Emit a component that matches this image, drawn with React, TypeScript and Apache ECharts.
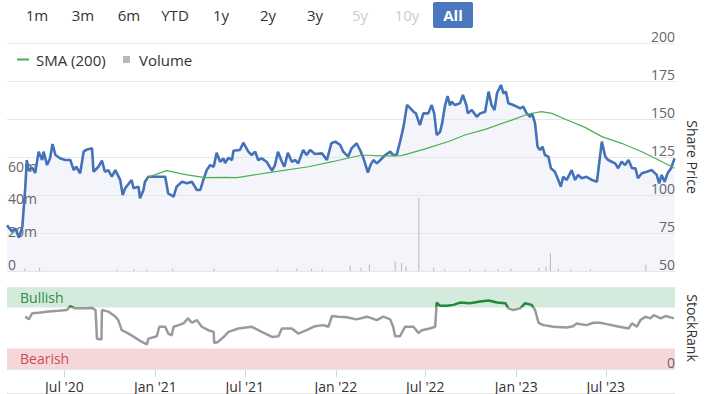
import React, { useEffect, useRef } from "react";
import * as echarts from "echarts";

const X_MIN = "2020-03-07";
const X_MAX = "2023-11-18";

const xTickDates = ["2020-07-01", "2021-01-01", "2021-07-01", "2022-01-01", "2022-07-01", "2023-01-01", "2023-07-01"];

const rangeButtons = ["1m", "3m", "6m", "YTD", "1y", "2y", "3y", "5y", "10y"];
const disabledButtons = ["5y", "10y"];

const priceDates = [
  "2020-03-07","2020-03-17","2020-03-24","2020-03-31","2020-04-07","2020-04-13","2020-04-16","2020-04-20","2020-04-27","2020-05-03",
  "2020-05-10","2020-05-17","2020-05-20","2020-05-27","2020-06-02","2020-06-07","2020-06-13","2020-06-23","2020-07-03","2020-07-13",
  "2020-07-20","2020-07-25","2020-08-02","2020-08-09","2020-08-16","2020-08-26","2020-08-29","2020-09-08","2020-09-15","2020-09-21",
  "2020-09-28","2020-10-05","2020-10-12","2020-10-22","2020-10-27","2020-11-01","2020-11-14","2020-11-18","2020-11-28","2020-12-01",
  "2020-12-08","2020-12-11","2020-12-18","2021-01-01","2021-01-21","2021-01-27","2021-02-07","2021-02-13","2021-02-24","2021-03-06",
  "2021-03-16","2021-03-26","2021-04-02","2021-04-08","2021-04-15","2021-04-22","2021-04-29","2021-05-05","2021-05-12","2021-05-19",
  "2021-05-22","2021-05-29","2021-06-05","2021-06-08","2021-06-21","2021-06-28","2021-07-08","2021-07-15","2021-07-22","2021-07-28",
  "2021-08-04","2021-08-14","2021-08-25","2021-08-31","2021-09-06","2021-09-14","2021-09-19","2021-09-26","2021-10-04","2021-10-11",
  "2021-10-17","2021-10-27","2021-11-03","2021-11-10","2021-11-20","2021-12-04","2021-12-14","2021-12-23","2021-12-31","2022-01-10",
  "2022-01-16","2022-01-26","2022-02-02","2022-02-12","2022-02-19","2022-02-26","2022-03-07","2022-03-12","2022-03-18","2022-03-25",
  "2022-04-01","2022-04-11","2022-04-21","2022-04-27","2022-05-04","2022-05-11","2022-05-18","2022-05-25","2022-06-01","2022-06-07",
  "2022-06-12","2022-06-20","2022-06-27","2022-07-07","2022-07-14","2022-07-19","2022-07-24","2022-07-31","2022-08-04","2022-08-10",
  "2022-08-15","2022-08-20","2022-08-23","2022-08-30","2022-09-09","2022-09-15","2022-09-22","2022-09-25","2022-10-03","2022-10-13",
  "2022-10-20","2022-10-30","2022-11-06","2022-11-12","2022-11-18","2022-11-23","2022-12-01","2022-12-06","2022-12-11","2022-12-16",
  "2022-12-26","2023-01-02","2023-01-09","2023-01-15","2023-01-22","2023-01-29","2023-02-02","2023-02-08","2023-02-13","2023-02-18",
  "2023-02-23","2023-02-28","2023-03-07","2023-03-12","2023-03-20","2023-03-27","2023-04-01","2023-04-06","2023-04-13","2023-04-23",
  "2023-04-30","2023-05-06","2023-05-13","2023-05-23","2023-06-03","2023-06-13","2023-06-16","2023-06-23","2023-06-30","2023-07-06",
  "2023-07-13","2023-07-20","2023-07-26","2023-08-02","2023-08-09","2023-08-16","2023-08-23","2023-08-30","2023-09-04","2023-09-12",
  "2023-09-22","2023-10-02","2023-10-12","2023-10-17","2023-10-22","2023-10-28","2023-11-03","2023-11-10","2023-11-17",
];
const priceValues = [
  80, 76, 78, 72, 79, 105, 123, 116, 118, 114.5,
  128.5, 123, 128.5, 119.7, 124, 133.5, 126.3, 124, 123, 123,
  116.4, 118.6, 114.3, 128.5, 130, 130.7, 115.3, 118.6, 122.6, 115.3,
  116.4, 112, 116.4, 109.9, 100, 104.4, 109.9, 104.4, 105.5, 97.8,
  103.3, 108.7, 112, 112, 112, 101, 98.9, 105.5, 108.7, 107.7,
  108.7, 103.3, 103.3, 109.9, 116.4, 119.7, 118.6, 127.8, 121.9, 124.1,
  121, 124.5, 123, 129.1, 129.6, 134.4, 128.5, 126.3, 128.5, 123,
  124.1, 121.9, 116, 119.7, 128.5, 121.9, 118.6, 127.8, 121.9, 123,
  120.8, 129.6, 126.3, 129.6, 127, 127.4, 123, 134, 135.1, 132.9,
  128.5, 125.2, 130.7, 134, 129.6, 124.1, 114.7, 119.7, 123, 120.8,
  123, 126.3, 128.5, 126.3, 126.3, 135.1, 145, 159.2, 157, 154.8,
  153.7, 146, 153.7, 153.7, 159.2, 153.7, 139.5, 141.6, 147.1, 159,
  165, 159, 161.4, 159.2, 160.3, 165.8, 159.2, 153.7, 155.9, 151.5,
  153.7, 154.8, 168, 159.2, 155.9, 166.9, 172.4, 166.9, 168, 160.3,
  159.2, 158.1, 157, 158.1, 153.7, 151.5, 153.7, 147.1, 131.8, 129.6,
  131.8, 126.3, 125.2, 117.6, 115.3, 109.9, 105.5, 112, 109.9, 116.4,
  109.9, 113.2, 111, 112, 109.9, 108.7, 116.4, 135.1, 125.2, 123,
  121.9, 120.8, 117.6, 121.9, 119.7, 123, 117.6, 117.6, 111, 114.3,
  115.3, 116.4, 113.2, 107.7, 113.2, 108.7, 114.3, 117.6, 124.1,
];

const smaDates = [
  "2020-12-15","2021-01-24","2021-03-06","2021-04-12","2021-05-22","2021-06-15","2021-08-25","2021-11-07","2021-12-25","2022-02-23",
  "2022-04-04","2022-05-14","2022-07-01","2022-08-20","2022-09-19","2022-10-30","2022-12-23","2023-01-25","2023-02-21","2023-03-14",
  "2023-04-10","2023-05-20","2023-06-23","2023-08-02","2023-09-12","2023-10-16","2023-11-17",
];
const smaValues = [
  111.4, 116, 113.2, 111.4, 111.6, 111.4, 115, 118.6, 121.9, 126.3,
  125.7, 125.9, 130.3, 135.5, 139.5, 143.2, 149.3, 153.3, 154.8, 153.7,
  149.8, 144.5, 138.4, 134, 128.5, 123, 117.6,
];

const volumeDates = [
  "2020-03-17","2020-04-12","2020-05-12","2020-10-15","2020-11-19","2020-12-15","2021-02-05","2021-04-30","2021-09-05","2021-10-14",
  "2021-11-13","2021-12-05","2022-01-30","2022-02-21","2022-03-10","2022-05-01","2022-05-14","2022-05-23","2022-06-18","2022-07-18",
  "2022-08-09","2022-09-29","2022-10-30","2022-11-25","2022-12-21","2023-02-16","2023-03-02","2023-03-11","2023-03-27","2023-04-22",
  "2023-05-31","2023-09-20",
];
const volumeValues = [
  1.5, 1.5, 2, 1, 1, 1, 1.5, 1.5, 1, 1.5,
  1.5, 1, 3, 2, 4, 6, 5, 3, 45, 2,
  1, 1, 1, 1, 1.5, 2, 2.5, 11, 1.5, 1,
  1, 4,
];

const rankDates = [
  "2020-04-13","2020-04-20","2020-04-27","2020-05-10","2020-05-30","2020-06-19","2020-07-06","2020-07-13","2020-07-23","2020-08-12",
  "2020-08-26","2020-09-02","2020-09-05","2020-09-14","2020-09-15","2020-09-28","2020-10-12","2020-10-18","2020-10-25","2020-11-08",
  "2020-11-21","2020-12-05","2020-12-15","2020-12-18","2021-01-04","2021-01-09","2021-01-21","2021-01-27","2021-02-03","2021-02-07",
  "2021-02-17","2021-02-27","2021-03-08","2021-03-16","2021-03-26","2021-04-05","2021-04-18","2021-04-29","2021-04-30","2021-05-08",
  "2021-05-19","2021-05-29","2021-06-18","2021-07-15","2021-08-04","2021-08-25","2021-09-07","2021-09-14","2021-10-04","2021-10-17",
  "2021-11-03","2021-11-20","2021-12-07","2021-12-17","2021-12-24","2022-01-06","2022-01-23","2022-02-12","2022-03-05","2022-03-25",
  "2022-04-07","2022-04-21","2022-04-27","2022-05-01","2022-05-11","2022-05-21","2022-06-07","2022-06-17","2022-06-24","2022-07-10",
  "2022-07-21","2022-07-24","2022-07-31","2022-08-13","2022-08-27","2022-09-09","2022-09-29","2022-10-20","2022-11-06","2022-11-23",
  "2022-12-10","2022-12-16","2022-12-26","2023-01-09","2023-01-19","2023-02-01","2023-02-08","2023-02-15","2023-02-25","2023-03-17",
  "2023-04-13","2023-04-26","2023-05-03","2023-05-23","2023-06-06","2023-06-19","2023-07-03","2023-07-23","2023-08-16","2023-08-23",
  "2023-09-02","2023-09-09","2023-09-19","2023-09-29","2023-10-06","2023-10-20","2023-10-30","2023-11-16",
];
const rankValues = [
  64, 60.5, 68, 68.7, 70, 71, 72, 76.5, 74, 74,
  74.5, 72, 37, 36, 72, 70, 64, 59.6, 47.3, 43.2,
  38.3, 33, 30, 37, 40, 51.5, 51.5, 43.2, 41, 51.5,
  53.5, 55.6, 61.7, 56.4, 59.6, 51.5, 47.3, 45.3, 31.7, 33,
  39, 45.3, 49.4, 51.5, 45.3, 39.1, 40, 49.4, 49.4, 43.2,
  47.3, 52.2, 53.5, 51.5, 64.6, 63.8, 63, 60.5, 63.8, 59.6,
  63.8, 60.5, 51.5, 40, 40, 51.5, 51.5, 44, 47.3, 49.4,
  51.5, 81, 77, 77, 78.2, 81, 80.2, 82.3, 83.6, 81,
  80.2, 74, 72, 74, 80.2, 78.2, 72, 56.4, 53.5, 51.5,
  50.6, 52.2, 55.6, 53.5, 56.4, 56.4, 54.7, 52.2, 49.4, 55.6,
  51.5, 59.6, 63.8, 61.7, 65.8, 61.7, 64.6, 61.7,
];

const MONTHS = ["Jan", "Feb", "Mar", "Apr", "May", "Jun", "Jul", "Aug", "Sep", "Oct", "Nov", "Dec"];
const ts = (s: string) => new Date(s + "T00:00:00").getTime();
const zip = (d: string[], v: number[]) => d.map((s, i) => [ts(s), v[i]]);

const FONT = "'Open Sans', 'Noto Sans', sans-serif";

export default function App() {
  const ref = useRef<HTMLDivElement>(null);

  useEffect(() => {
    if (!ref.current) return;
    const chart = echarts.init(ref.current, undefined, { renderer: "svg" });

    const xTicks = xTickDates.map(ts);
    const xMin = ts(X_MIN);
    const xMax = ts(X_MAX);
    const priceData = zip(priceDates, priceValues);

    const buttonX = [37, 83, 129, 175, 221, 268, 315, 360, 407];
    const graphics: any[] = rangeButtons.map((b, i) => ({
      type: "text",
      x: buttonX[i],
      y: 15,
      silent: true,
      style: {
        text: b,
        fill: disabledButtons.includes(b) ? "#cccccc" : "#333333",
        font: `15px ${FONT}`,
        align: "center",
        verticalAlign: "middle",
      },
    }));
    graphics.push({
      type: "rect",
      shape: { x: 433, y: 2, width: 40, height: 26, r: 2 },
      style: { fill: "#4a77bd" },
      silent: true,
    });
    graphics.push({
      type: "text",
      x: 453,
      y: 15,
      silent: true,
      style: {
        text: "All",
        fill: "#ffffff",
        font: `bold 15px ${FONT}`,
        align: "center",
        verticalAlign: "middle",
      },
    });
    graphics.push({
      type: "line",
      shape: { x1: 7, y1: 393.5, x2: 675, y2: 393.5 },
      style: { stroke: "#e6e6e6", lineWidth: 1 },
      silent: true,
    });

    const option: any = {
      animation: false,
      backgroundColor: "#ffffff",
      textStyle: { fontFamily: FONT },
      graphic: graphics,
      legend: [
        {
          data: ["SMA (200)"],
          left: 17,
          top: 52,
          padding: 0,
          itemWidth: 12,
          itemHeight: 2,
          icon: "rect",
          selectedMode: false,
          textStyle: { fontSize: 15, color: "#333", padding: [0, 0, 0, 2] },
        },
        {
          data: ["Volume"],
          left: 123,
          top: 52,
          padding: 0,
          itemWidth: 7,
          itemHeight: 7,
          icon: "rect",
          selectedMode: false,
          textStyle: { fontSize: 15, color: "#333", padding: [0, 0, 0, 4] },
        },
      ],
      grid: [
        { left: 7, right: 37, top: 43, height: 228 },
        { left: 7, right: 37, top: 287, height: 82 },
      ],
      xAxis: [
        { type: "value", gridIndex: 0, min: xMin, max: xMax, show: false, splitLine: { show: false } },
        {
          type: "value",
          gridIndex: 1,
          min: xMin,
          max: xMax,
          axisLine: { show: false },
          splitLine: { show: false },
          axisTick: { show: true, customValues: xTicks, length: 8, lineStyle: { color: "#ccd6eb" } },
          axisLabel: {
            customValues: xTicks,
            margin: 10,
            fontSize: 14,
            color: "#333",
            formatter: (v: number) => {
              const d = new Date(v);
              return `${MONTHS[d.getMonth()]} '${String(d.getFullYear()).slice(2)}`;
            },
          },
        },
      ],
      yAxis: [
        {
          type: "value",
          gridIndex: 0,
          position: "right",
          min: 50,
          max: 200,
          interval: 25,
          z: 2,
          axisLine: { show: false },
          axisTick: { show: false },
          splitLine: { show: true, lineStyle: { color: "#e6e6e6" } },
          axisLabel: { inside: true, margin: 0, verticalAlign: "bottom", fontSize: 14, color: "#666" },
          name: "Share Price",
          nameLocation: "middle",
          nameRotate: -90,
          nameGap: 8,
          nameTextStyle: { fontSize: 14, color: "#333" },
        },
        {
          type: "value",
          gridIndex: 0,
          position: "left",
          min: 0,
          max: 140,
          interval: 20,
          z: 2,
          axisLine: { show: false },
          axisTick: { show: false },
          splitLine: { show: false },
          axisLabel: {
            inside: true,
            margin: 1,
            verticalAlign: "bottom",
            fontSize: 14,
            color: "#666",
            formatter: (v: number) => (v === 0 ? "0" : v <= 60 ? `${v}m` : ""),
          },
        },
        {
          type: "value",
          gridIndex: 1,
          position: "right",
          min: 0,
          max: 100,
          interval: 100,
          z: 10,
          axisLine: { show: false },
          axisTick: { show: false },
          splitLine: { show: true, lineStyle: { color: "#e6e6e6" } },
          axisLabel: {
            inside: true,
            margin: 0,
            verticalAlign: "bottom",
            fontSize: 14,
            color: "#666",
            formatter: (v: number) => (v === 0 ? "0" : ""),
          },
          name: "StockRank",
          nameLocation: "middle",
          nameRotate: -90,
          nameGap: 8,
          nameTextStyle: { fontSize: 14, color: "#333" },
        },
      ],
      visualMap: {
        type: "piecewise",
        show: false,
        seriesIndex: 4,
        dimension: 1,
        pieces: [
          { min: 0, max: 75, color: "#9a9a9a" },
          { min: 75, max: 100, color: "#1f8a3c" },
        ],
        outOfRange: { color: "#9a9a9a" },
      },
      series: [
        {
          name: "Share Price Area",
          type: "line",
          xAxisIndex: 0,
          yAxisIndex: 0,
          data: priceData,
          symbol: "none",
          silent: true,
          lineStyle: { width: 0, opacity: 0 },
          areaStyle: { color: "#f3f5fb", origin: "start", opacity: 1 },
          z: 1,
        },
        {
          name: "Share Price",
          type: "line",
          xAxisIndex: 0,
          yAxisIndex: 0,
          data: priceData,
          symbol: "none",
          lineStyle: { width: 2.6, color: "#4472b8" },
          itemStyle: { color: "#4472b8" },
          z: 6,
        },
        {
          name: "SMA (200)",
          type: "line",
          xAxisIndex: 0,
          yAxisIndex: 0,
          data: zip(smaDates, smaValues),
          symbol: "none",
          lineStyle: { width: 1.2, color: "#4caf50" },
          itemStyle: { color: "#4caf50" },
          z: 7,
        },
        {
          name: "Volume",
          type: "bar",
          xAxisIndex: 0,
          yAxisIndex: 1,
          data: zip(volumeDates, volumeValues),
          barWidth: 1,
          itemStyle: { color: "#b8b8b8" },
          z: 4,
        },
        {
          name: "StockRank",
          type: "line",
          xAxisIndex: 1,
          yAxisIndex: 2,
          data: zip(rankDates, rankValues),
          symbol: "none",
          lineStyle: { width: 2.5 },
          z: 5,
          markArea: {
            silent: true,
            label: { show: true, position: "insideLeft", distance: 13, fontSize: 14 },
            data: [
              [
                { yAxis: 75, name: "Bullish", itemStyle: { color: "#d4eadc", opacity: 1 }, label: { color: "#2e8a4a" } },
                { yAxis: 100 },
              ],
              [
                { yAxis: 0, name: "Bearish", itemStyle: { color: "#f5d7da", opacity: 1 }, label: { color: "#d24b57" } },
                { yAxis: 25 },
              ],
            ],
          },
        },
      ],
    };

    chart.setOption(option);
    return () => chart.dispose();
  }, []);

  return (
    <div
      ref={ref}
      style={{ position: "absolute", left: 0, top: 0, width: 712, height: 394, background: "#fff" }}
    />
  );
}
